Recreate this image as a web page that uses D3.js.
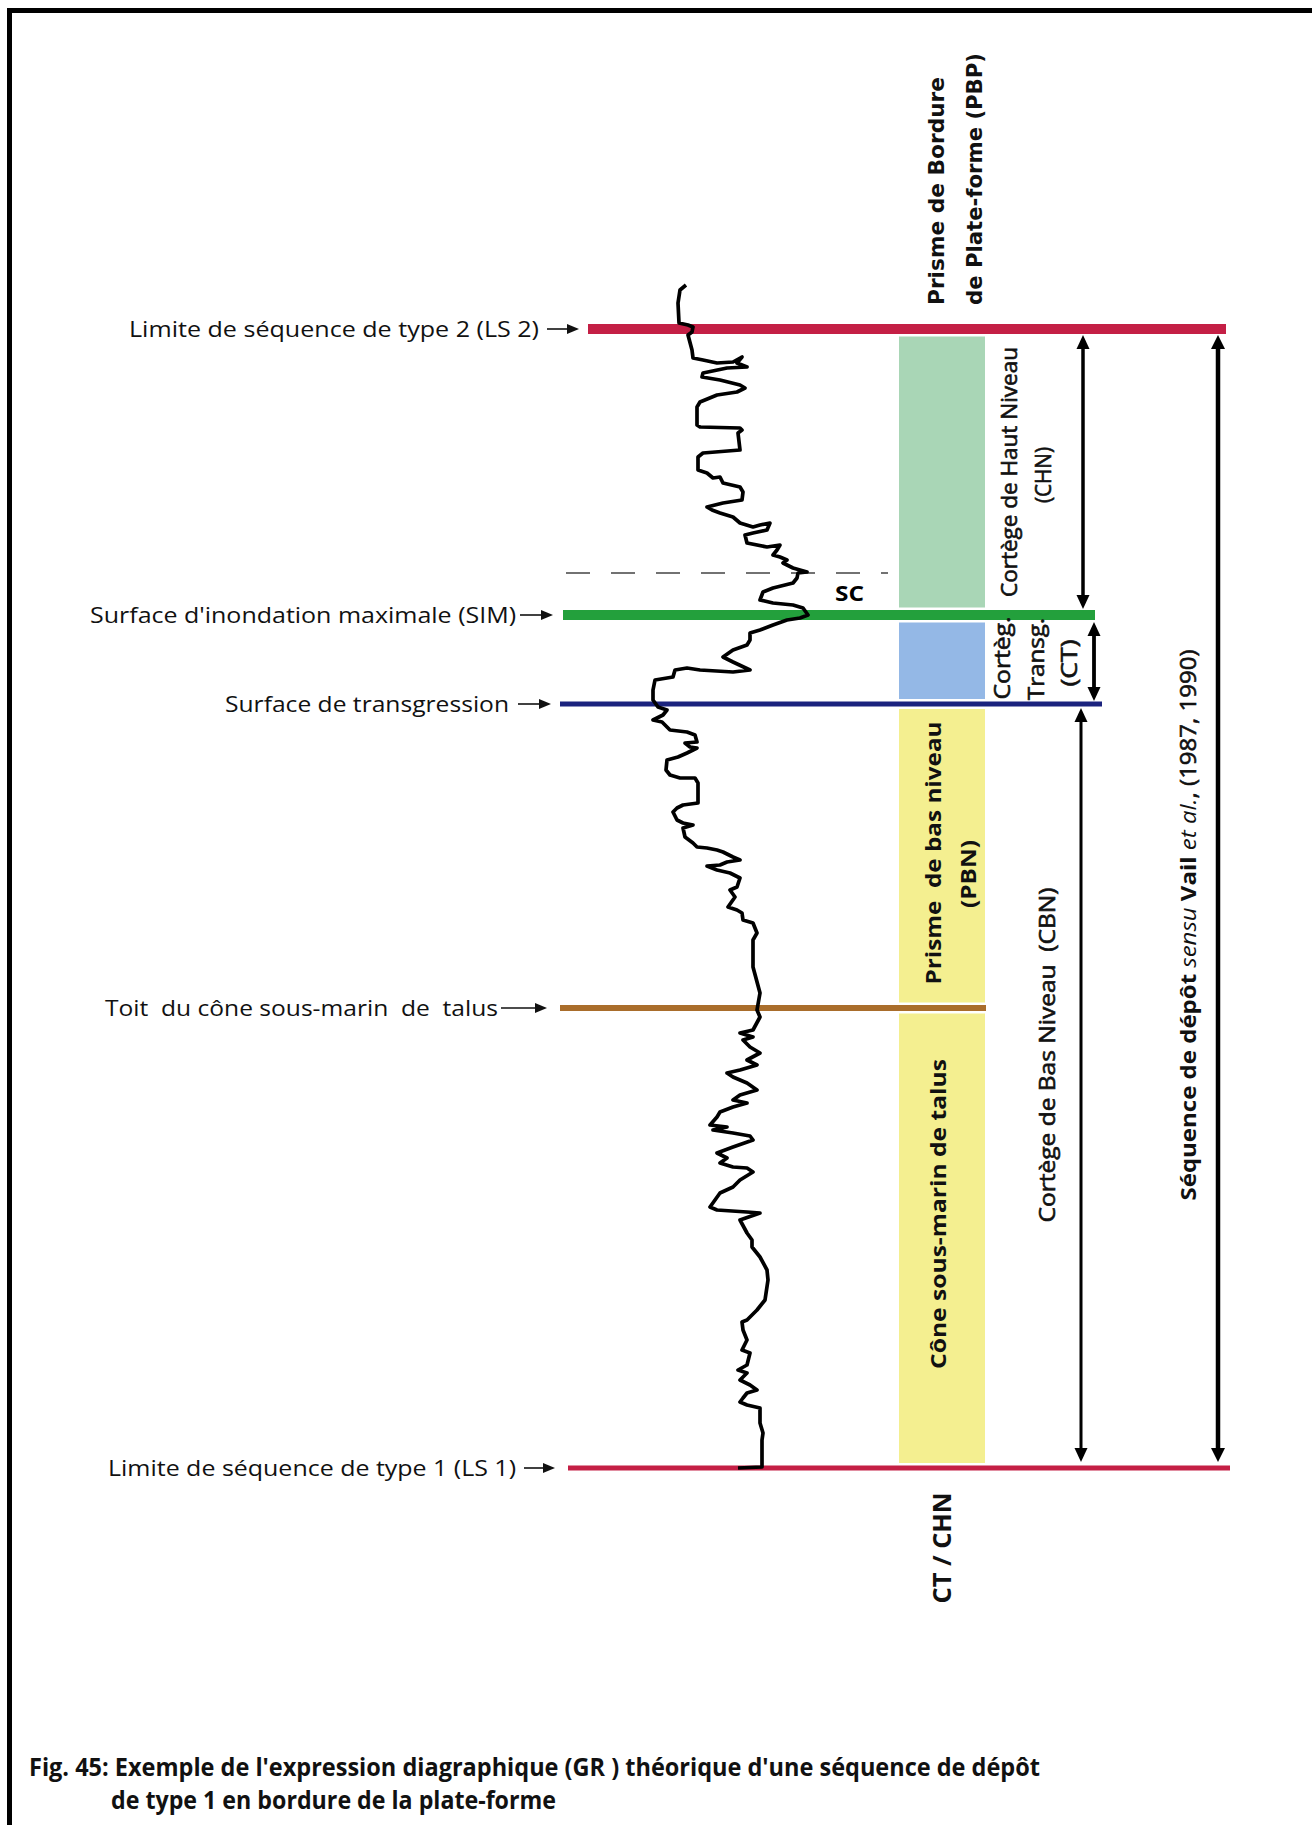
<!DOCTYPE html>
<html><head><meta charset="utf-8">
<script src="https://cdn.jsdelivr.net/npm/d3@7"></script>
<style>html,body{margin:0;padding:0;background:#fff} svg{display:block}</style>
</head><body>
<svg id="chart" width="1312" height="1825"></svg>
<script>
// ---------------- DATA ----------------
const surfaceNames = ["Limite de séquence de type 2 (LS 2)", "Surface d'inondation maximale (SIM)", "Surface de transgression", "Toit  du cône sous-marin  de  talus", "Limite de séquence de type 1 (LS 1)"];
const surfaceDepths = [49, 335, 424, 728, 1188];
const surfaceColors = ["#c41f45", "#23a03c", "#1b237e", "#a96d2b", "#c41f45"];
const scDepth = 293;
const scLabel = "SC";

const unitNames = [["Cortège de Haut Niveau", "(CHN)"], ["Cortèg.", "Transg.", "(CT)"], ["Prisme  de bas niveau", "(PBN)"], ["Cône sous-marin de talus"]];
const unitTop = [0, 1, 2, 3];      // index of surface at top
const unitBottom = [1, 2, 3, 4];   // index of surface at bottom
const unitColors = ["#a9d6b6", "#94b8e6", "#f4ef90", "#f4ef90"];

const curveDepth = [5,10,23,43,45,47,52,55,70,78,80,83,82,77,83,87,88,93,97,100,105,108,112,115,122,127,145,147,148,150,153,170,173,177,190,193,198,197,203,207,212,220,223,227,230,233,237,243,247,245,243,250,253,255,263,267,265,270,275,277,280,283,288,292,293,298,303,308,312,320,323,325,328,335,338,340,345,350,353,360,365,370,377,382,390,392,390,388,390,397,400,410,420,
427,430,435,440,442,447,450,452,455,462,463,467,468,473,477,480,490,495,498,498,503,523,525,528,532,540,543,545,548,557,563,567,568,570,572,577,580,582,585,586,590,593,598,607,610,617,627,630,633,640,643,653,660,687,713,730,737,750,753,757,760,
767,773,780,785,790,793,797,803,810,815,820,823,827,832,837,845,847,850,853,856,860,867,873,878,883,887,888,892,900,907,913,927,930,932,933,940,953,960,967,977,990,1000,1020,1030,1040,1042,1050,1060,1070,1073,1085,1090,1093,1100,1105,1110,1113,1118,1122,1125,1128,1143,1153,1160,1187,1188];
const curveGR = [63,60,59,59.5,64,66.5,66,64,66,66.5,71.5,78.5,86.5,91,88.5,93.5,83.5,71.5,71,80,90,92.5,88.5,78.5,70,68.5,68.5,70,90,91,89,90,71.5,69,69,73.5,76.5,80,81.5,90,91.5,91,81.5,73.5,76,80,86.5,90,96.5,100,105,103.5,96.5,92.5,93.5,103.5,110,108.5,106.5,110,113.5,111.5,116.5,123.5,119,118.5,116.5,106.5,101.5,100,106.5,116.5,121.5,124,120,113.5,106.5,100,95,95,93.5,86.5,81.5,86.5,95,86.5,70,63.5,57.5,56.5,47.5,46.5,46.5,
49,53.5,51.5,46.5,51,53.5,55,63.5,67.5,68.5,62.5,65,68.5,63.5,59,53.5,53,55,60,67.5,69,69,61.5,58.5,56.5,58.5,61.5,66.5,61.5,62.5,66.5,68.5,73.5,78.5,81.5,86.5,90,83.5,80,73.5,78.5,85,90,88.5,85,87.5,84,88.5,91,91.5,96.5,98.5,96.5,96.5,100,98.5,100,96.5,90,96.5,91.5,
95,100,93.5,98.5,90,83.5,86.5,93.5,98.5,90,86.5,93.5,86.5,80,78.5,75,83.5,76.5,86.5,95,96.5,86.5,78.5,83.5,80,86.5,93.5,96.5,90,86.5,80,75,78.5,93.5,100,90,93.5,96,96,100,103.5,104,102.5,98.5,93.5,91,91.5,93.5,91,95,93.5,89,93.5,90,95,98.5,93.5,91.5,90,93.5,100,100,101.5,101,101,89];

const captionLines = ["Fig. 45: Exemple de l'expression diagraphique (GR ) théorique d'une séquence de dépôt", "de type 1 en bordure de la plate-forme"];

// ---------------- SCALES ----------------
const svg = d3.select("#chart");
const y = d3.scaleLinear().domain([0, 1200]).range([280, 1480]);
const x = d3.scaleLinear().domain([0, 150]).range([560, 860]);
const SANS = "'Open Sans', 'Noto Sans', sans-serif";

svg.append("rect").attr("width", 1312).attr("height", 1825).attr("fill", "#fff");
// frame
svg.append("rect").attr("x", 7).attr("y", 8).attr("width", 1305).attr("height", 5).attr("fill", "#000");
svg.append("rect").attr("x", 7).attr("y", 8).attr("width", 5).attr("height", 1817).attr("fill", "#000");

// surface layouts
const sLay = [
  {x0: 588, x1: 1226, w: 10, end: 539, len: 410, a0: 547, a1: 579},
  {x0: 563, x1: 1095, w: 10, end: 516, len: 426, a0: 520, a1: 553},
  {x0: 560, x1: 1102, w: 5, end: 509, len: 284, a0: 518, a1: 551},
  {x0: 560, x1: 986, w: 6, end: 498, len: 393, a0: 501, a1: 547},
  {x0: 568, x1: 1230, w: 5, end: 516, len: 408, a0: 524, a1: 555}
];

// bars
const bx0 = 899, bx1 = 985, gap = 2.5;
unitNames.forEach((n, i) => {
  const t = unitTop[i], b = unitBottom[i];
  const yt = y(surfaceDepths[t]) + sLay[t].w / 2 + gap;
  const yb = y(surfaceDepths[b]) - sLay[b].w / 2 - gap;
  svg.append("rect").attr("x", bx0).attr("y", yt).attr("width", bx1 - bx0).attr("height", yb - yt).attr("fill", unitColors[i]);
});

// dashed SC line
svg.append("line").attr("x1", 566).attr("x2", 888).attr("y1", y(scDepth)).attr("y2", y(scDepth))
  .attr("stroke", "#444").attr("stroke-width", 1.3).attr("stroke-dasharray", "24 21");
svg.append("text").attr("x", 835).attr("y", y(scDepth) + 21).attr("dy", "0.35em")
  .attr("font-family", SANS).attr("font-weight", 700).attr("font-size", 21)
  .attr("textLength", 29).attr("lengthAdjust", "spacingAndGlyphs").text(scLabel);

// surfaces
surfaceDepths.forEach((d, i) => {
  const L = sLay[i], yy = y(d);
  svg.append("line").attr("x1", L.x0).attr("x2", L.x1).attr("y1", yy).attr("y2", yy)
    .attr("stroke", surfaceColors[i]).attr("stroke-width", L.w);
  svg.append("text").attr("x", L.end).attr("y", yy).attr("dy", "0.35em").attr("text-anchor", "end")
    .attr("font-family", SANS).attr("font-size", 22).attr("fill", "#111")
    .attr("textLength", L.len).attr("lengthAdjust", "spacingAndGlyphs")
    .style("white-space", "pre").text(surfaceNames[i]);
  // arrow
  svg.append("line").attr("x1", L.a0).attr("x2", L.a1 - 8).attr("y1", yy).attr("y2", yy)
    .attr("stroke", "#111").attr("stroke-width", 1.6);
  svg.append("path").attr("d", `M${L.a1},${yy} L${L.a1 - 12},${yy - 5} L${L.a1 - 12},${yy + 5} Z`).attr("fill", "#111");
});

// GR curve
const pts = curveDepth.map((d, i) => [curveGR[i], d]);
svg.append("path").datum(pts)
  .attr("d", d3.line().x(p => x(p[0])).y(p => y(p[1])))
  .attr("fill", "none").attr("stroke", "#000").attr("stroke-width", 3.7).attr("stroke-linejoin", "round");

// vertical double arrows
function vArrow(xx, y0, y1, sw, hl, hw) {
  svg.append("line").attr("x1", xx).attr("x2", xx).attr("y1", y0 + hl - 2).attr("y2", y1 - hl + 2)
    .attr("stroke", "#000").attr("stroke-width", sw);
  svg.append("path").attr("d", `M${xx},${y0} L${xx - hw},${y0 + hl} L${xx + hw},${y0 + hl} Z`).attr("fill", "#000");
  svg.append("path").attr("d", `M${xx},${y1} L${xx - hw},${y1 - hl} L${xx + hw},${y1 - hl} Z`).attr("fill", "#000");
}
vArrow(1083, y(surfaceDepths[0]) + 6, y(surfaceDepths[1]) - 6, 3.5, 14, 6.5);
vArrow(1094, y(surfaceDepths[1]) + 7, y(surfaceDepths[2]) - 3, 3.8, 14, 6.5);
vArrow(1081, y(surfaceDepths[2]) + 4, y(surfaceDepths[4]) - 6, 3, 14, 6.5);
vArrow(1218, y(surfaceDepths[0]) + 6, y(surfaceDepths[4]) - 6, 4.5, 14, 7);

// rotated text helper
function vText(xx, yy, parts, size, weight, len, anchor, family) {
  const semi = weight === 600;
  const t = svg.append("text").attr("transform", `translate(${xx},${yy}) rotate(-90)`)
    .attr("text-anchor", anchor || "middle").attr("dy", "0.35em")
    .attr("font-family", family || SANS).attr("font-size", size).attr("font-weight", semi ? 400 : weight)
    .attr("fill", "#111").style("white-space", "pre");
  if (semi) t.attr("stroke", "#111").attr("stroke-width", 0.6);
  if (len) t.attr("textLength", len).attr("lengthAdjust", "spacingAndGlyphs");
  if (typeof parts === "string") t.text(parts);
  else parts.forEach(p => {
    const s = t.append("tspan").attr("font-weight", p.w || weight).attr("font-style", p.i ? "italic" : "normal").text(p.t);
    if (p.w === 600) s.attr("font-weight", 400).attr("stroke", "#111").attr("stroke-width", 0.6);
  });
  return t;
}
const DJ = "'DejaVu Sans', sans-serif";
vText(937, 305, "Prisme de Bordure", 21, 700, 228, "start", DJ);
vText(975, 305, "de Plate-forme (PBP)", 21, 700, 252, "start", DJ);
vText(1010, 472, unitNames[0][0], 21, 600, 250);
vText(1044, 475, unitNames[0][1], 21, 600, 56);
vText(1003, 658, unitNames[1][0], 21, 600, 83);
vText(1037, 659, unitNames[1][1], 21, 600, 82);
vText(1070, 663, unitNames[1][2], 21, 600, 47);
vText(933, 853, unitNames[2][0], 22, 700, 263);
vText(968, 874, unitNames[2][1], 22, 700, 68);
vText(938, 1214, unitNames[3][0], 22, 700, 310);
vText(1048, 1055, "Cortège de Bas Niveau  (CBN)", 21, 600, 335);
vText(1188, 925, [{t: "Séquence de dépôt ", w: 700}, {t: "sensu", w: 400, i: true}, {t: " Vail", w: 700}, {t: " et al.", w: 400, i: true}, {t: ", (1987, 1990)", w: 600}], 22, 700, 551);
vText(942, 1548, "CT / CHN", 25, 700, 111);

// caption
const CAP = "'Liberation Sans Narrow', 'Open Sans', sans-serif";
svg.append("text").attr("x", 29).attr("y", 1767).attr("dy", "0.35em").attr("font-family", CAP)
  .attr("font-weight", 700).attr("font-size", 25).attr("fill", "#111")
  .attr("textLength", 1011).attr("lengthAdjust", "spacingAndGlyphs").text(captionLines[0]);
svg.append("text").attr("x", 111).attr("y", 1800).attr("dy", "0.35em").attr("font-family", CAP)
  .attr("font-weight", 700).attr("font-size", 25).attr("fill", "#111")
  .attr("textLength", 445).attr("lengthAdjust", "spacingAndGlyphs").text(captionLines[1]);
</script>
</body></html>
